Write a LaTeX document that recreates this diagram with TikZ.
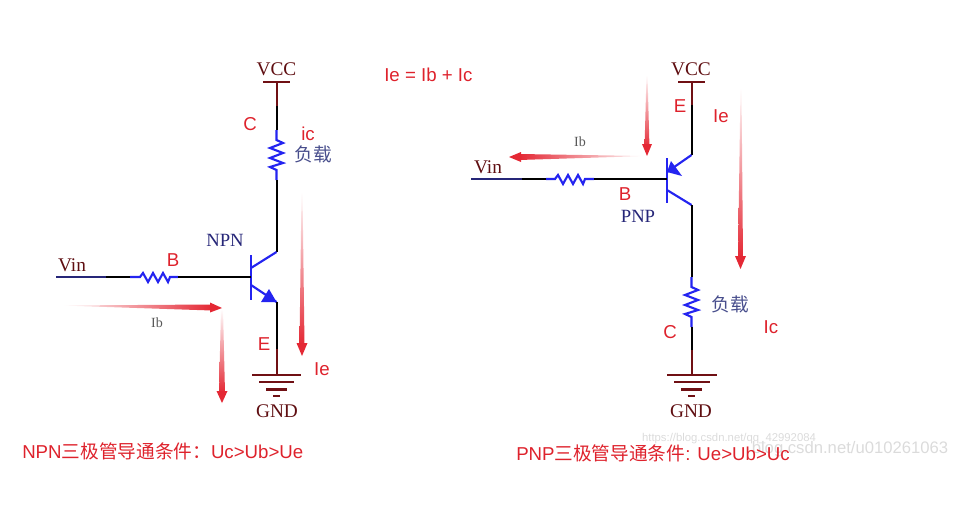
\documentclass[tikz,border=0pt]{standalone}
\usepackage{fontspec}
\setmainfont{Liberation Serif}
\newfontfamily\lsans{Liberation Sans}
\newfontfamily\cjk{Noto Sans CJK SC}
\definecolor{wireblue}{RGB}{36,36,240}
\definecolor{powerred}{RGB}{112,16,20}
\definecolor{arrred}{RGB}{228,40,52}
\definecolor{labred}{RGB}{222,34,44}
\definecolor{navy}{RGB}{38,38,120}
\definecolor{loadblue}{RGB}{72,78,140}
\tikzset{
  x=0.75pt,y=-0.75pt,
  blk/.style={draw=black,line width=1.5pt},
  blu/.style={draw=wireblue,line width=1.6pt,line join=miter},
  pwr/.style={draw=powerred,line width=1.5pt},
  lab/.style={text=labred,font=\lsans\fontsize{14}{14}\selectfont,inner sep=0pt},
  serifpwr/.style={text=powerred!85!black,font=\fontsize{14.5}{15}\selectfont,inner sep=0pt},
  serifblue/.style={text=navy,font=\fontsize{14}{15}\selectfont,inner sep=0pt},
  ibtxt/.style={text=black!65,font=\fontsize{10.5}{12}\selectfont,inner sep=0pt},
  loadtxt/.style={text=loadblue,font=\cjk\fontsize{14}{15}\selectfont,inner sep=0pt},
  cond/.style={text=labred,font=\lsans\fontsize{14}{15}\selectfont,inner sep=0pt,anchor=west},
  mark1/.style={text=black!14,font=\lsans\fontsize{8.5}{10}\selectfont,inner sep=0pt},
  mark2/.style={text=black!14,font=\lsans\fontsize{12.5}{14}\selectfont,inner sep=0pt},
}
\begin{document}
\begin{tikzpicture}
\useasboundingbox (0,0) rectangle (971,507);
% ---------- watermarks
\node[mark1] (wm1) at (729,439) {https://blog.csdn.net/qq\_42992084};
\node[mark2] (wm2) at (850,449) {blog.csdn.net/u010261063};
% ---------- NPN
\coordinate (nV) at (276.5,82);
\coordinate (nV2) at (276.5,106);
\coordinate (nR1) at (276.5,130);
\coordinate (nR2) at (276.5,180);
\coordinate (nC) at (276.5,252);
\coordinate (nBt) at (251,255);
\coordinate (nBb) at (251,300);
\coordinate (nB) at (251,277);
\coordinate (nCb) at (251,268);
\coordinate (nEb) at (251,285);
\coordinate (nE) at (276.5,302);
\coordinate (nG2) at (276.5,349);
\coordinate (nG) at (276.5,375);
\coordinate (nIn) at (56,277);
\coordinate (nIn2) at (106,277);
\coordinate (nBR1) at (130,277);
\coordinate (nBR2) at (178,277);
\draw[pwr] (nV) -- (nV2);
\draw[pwr,line width=1.8pt] (263,82) -- (290,82);
\draw[blk] (nV2) -- (nR1);
\draw[blu] (nR1) -- (276.5,140) -- (283,143) -- (270,148) -- (283,153) -- (270,158) -- (283,163) -- (270,167) -- (276.5,170) -- (nR2);
\draw[blk] (nR2) -- (nC);
\draw[blu] (nC) -- (nCb);
\draw[blu,line width=2pt] (nBt) -- (nBb);
\draw[blu] (nEb) -- (nE);
\fill[wireblue] (nE) -- (261,302) -- (269,289) -- cycle;
\draw[blk] (nE) -- (nG2);
\draw[pwr] (nG2) -- (nG);
\draw[pwr,line width=1.8pt] (252,375) -- (301,375);
\draw[pwr,line width=1.8pt] (259,382) -- (294,382);
\draw[pwr,line width=1.8pt] (266,389.5) -- (287,389.5);
\draw[pwr,line width=1.8pt] (273,396) -- (280,396);
\draw[blu,draw=navy] (nIn) -- (nIn2);
\draw[blk] (nIn2) -- (nBR1);
\draw[blu] (nBR1) -- (140,277) -- (143,273) -- (148,282) -- (153,273) -- (158,282) -- (163,273) -- (168,282) -- (170,277) -- (nBR2);
\draw[blk] (nBR2) -- (nB);
\node[serifpwr] (nvcc) at (276.5,69) {VCC};
\node[serifpwr] (ngnd) at (277,411) {GND};
\node[serifpwr] (nvin) at (72,265) {Vin};
\node[serifblue] (nnpn) at (225,240) {NPN};
\node[loadtxt] (nload) at (313,154) {负载};
\node[ibtxt] (nib) at (157,323) {Ib};
\node[lab] (nc) at (250,124) {C};
\node[lab] (nic) at (308,134) {ic};
\node[lab] (nb) at (173,260) {B};
\node[lab] (ne) at (264,344) {E};
\node[lab] (nie) at (322,369) {Ie};
% NPN current arrows
\shade[left color=white,right color=arrred,draw=none] (62,305.5) -- (212,304.5) -- (212,310.5) -- cycle;
\fill[arrred] (222,308) -- (210,302.5) -- (210,312.5) -- cycle;
\shade[top color=white,bottom color=arrred,draw=none] (221,309) -- (223,309) -- (225,393) -- (219,393) -- cycle;
\fill[arrred] (222,403) -- (216.5,391) -- (227.5,391) -- cycle;
\shade[top color=white,bottom color=arrred,draw=none] (301.5,192) -- (302.5,192) -- (304.5,345) -- (299.5,345) -- cycle;
\fill[arrred] (302,356) -- (296.5,343) -- (307.5,343) -- cycle;
% ---------- PNP
\coordinate (pV) at (691.5,82);
\coordinate (pV2) at (691.5,105);
\coordinate (pE) at (691.5,155);
\coordinate (pEb) at (667,172);
\coordinate (pBt) at (667,158);
\coordinate (pBb) at (667,203);
\coordinate (pB) at (667,179);
\coordinate (pCb) at (667,190);
\coordinate (pC) at (691.5,205);
\coordinate (pR1) at (691.5,277);
\coordinate (pR2) at (691.5,327);
\coordinate (pG2) at (691.5,350);
\coordinate (pG) at (691.5,375);
\coordinate (pIn) at (471,179);
\coordinate (pIn2) at (522,179);
\coordinate (pBR1) at (546,179);
\coordinate (pBR2) at (594,179);
\draw[pwr] (pV) -- (pV2);
\draw[pwr,line width=1.8pt] (678,82) -- (705,82);
\draw[blk] (pV2) -- (pE);
\draw[blu] (pE) -- (pEb);
\fill[wireblue] (pEb) -- (671,161) -- (682,176) -- cycle;
\draw[blu,line width=2pt] (pBt) -- (pBb);
\draw[blu] (pCb) -- (pC);
\draw[blk] (pC) -- (pR1);
\draw[blu] (pR1) -- (691.5,287) -- (698,290) -- (685,295) -- (698,300) -- (685,305) -- (698,310) -- (685,314) -- (691.5,317) -- (pR2);
\draw[blk] (pR2) -- (pG2);
\draw[pwr] (pG2) -- (pG);
\draw[pwr,line width=1.8pt] (667,375) -- (717,375);
\draw[pwr,line width=1.8pt] (674,382) -- (710,382);
\draw[pwr,line width=1.8pt] (681,389.5) -- (702,389.5);
\draw[pwr,line width=1.8pt] (688,396) -- (695,396);
\draw[blu,draw=navy] (pIn) -- (pIn2);
\draw[blk] (pIn2) -- (pBR1);
\draw[blu] (pBR1) -- (555,179) -- (558,175) -- (563,184) -- (568,175) -- (573,184) -- (578,175) -- (583,184) -- (585,179) -- (pBR2);
\draw[blk] (pBR2) -- (pB);
\node[serifpwr] (pvcc) at (691,69) {VCC};
\node[serifpwr] (pgnd) at (691,411) {GND};
\node[serifpwr] (pvin) at (488,167) {Vin};
\node[serifblue] (ppnp) at (638,216) {PNP};
\node[loadtxt] (pload) at (730,304) {负载};
\node[ibtxt] (pib) at (580,142) {Ib};
\node[lab] (pe) at (680,106) {E};
\node[lab] (pie) at (721,116) {Ie};
\node[lab] (pb) at (625,194) {B};
\node[lab] (pc) at (670,332) {C};
\node[lab] (pic) at (771,327) {Ic};
% PNP current arrows
\shade[top color=white,bottom color=arrred,draw=none] (646.5,75) -- (647.5,75) -- (649.5,148) -- (644.5,148) -- cycle;
\fill[arrred] (647,156) -- (642,144) -- (652,144) -- cycle;
\shade[left color=arrred,right color=white,draw=none] (519,154) -- (646,156) -- (519,160) -- cycle;
\fill[arrred] (509,157) -- (521,152) -- (521,162) -- cycle;
\shade[top color=white,bottom color=arrred,draw=none] (740.5,88) -- (741.5,88) -- (743,258) -- (738,258) -- cycle;
\fill[arrred] (740.5,269) -- (735,256) -- (746,256) -- cycle;
% ---------- text
\node[lab,anchor=west] (sum) at (384,75) {Ie = Ib + Ic};
\node[cond] (ncond) at (22,451) {NPN{\cjk 三极管导通条件：}Uc>Ub>Ue};
\node[cond] (pcond) at (516,453) {PNP{\cjk 三极管导通条件}: Ue>Ub>Uc};
\end{tikzpicture}
\end{document}
